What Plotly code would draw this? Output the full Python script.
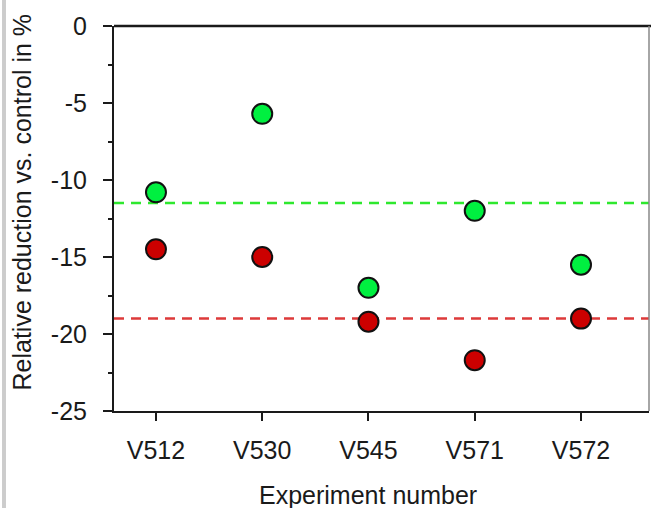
import plotly.graph_objects as go

experiments = ["V512", "V530", "V545", "V571", "V572"]
green_values = [-10.8, -5.7, -17.0, -12.0, -15.5]
red_values = [-14.5, -15.0, -19.2, -21.7, -19.0]
green_mean = -11.5
red_mean = -19.0
y_ticks = [0, -5, -10, -15, -20, -25]

xpos = list(range(1, len(experiments) + 1))
FONT = "Liberation Sans, Arial, sans-serif"
TXT = "#1a1a1a"
FS = 25

fig = go.Figure()

# dashed reference lines
fig.add_hline(y=green_mean, line=dict(color="#2ee82e", width=2.5, dash="10px,7px"), layer="below")
fig.add_hline(y=red_mean, line=dict(color="#dd3a3a", width=2.5, dash="10px,7px"), layer="below")

fig.add_trace(go.Scatter(
    x=xpos, y=green_values, mode="markers",
    marker=dict(size=20, color="#00f040", line=dict(color="#111111", width=2)),
    showlegend=False, cliponaxis=False))
fig.add_trace(go.Scatter(
    x=xpos, y=red_values, mode="markers",
    marker=dict(size=20, color="#cc0000", line=dict(color="#111111", width=2)),
    showlegend=False, cliponaxis=False))

fig.update_xaxes(
    range=[0.605, 5.64], tickmode="array", tickvals=xpos, ticktext=experiments,
    showgrid=False, zeroline=False, showline=True, linecolor="#1a1a1a", linewidth=2,
    ticks="outside", ticklen=8, tickwidth=2, tickcolor="#1a1a1a",
    tickfont=dict(family=FONT, size=FS, color=TXT), ticklabelstandoff=8)
fig.update_yaxes(
    range=[-25, 0], tickmode="array", tickvals=y_ticks, ticktext=[str(v) for v in y_ticks],
    showgrid=False, zeroline=False, showline=True, linecolor="#1a1a1a", linewidth=2,
    ticks="outside", ticklen=9, tickwidth=2, tickcolor="#1a1a1a",
    tickfont=dict(family=FONT, size=FS, color=TXT), ticklabelstandoff=11,
    minor=dict(tickvals=[-2.5, -7.5, -12.5, -17.5, -22.5], ticks="outside", ticklen=4,
               tickwidth=2, tickcolor="#1a1a1a"))

# frame top and right (right edge cropped, appears gray)
fig.add_shape(type="line", xref="paper", yref="paper", x0=0, x1=1.01, y0=1, y1=1,
              line=dict(color="#1a1a1a", width=2.5))
fig.add_shape(type="line", xref="paper", yref="paper", x0=1, x1=1, y0=0, y1=1,
              line=dict(color="#888888", width=1.5))
# left gray border of image
fig.add_shape(type="rect", xref="paper", yref="paper", x0=-0.2093, x1=-0.2019,
              y0=-0.26, y1=1.08, line=dict(width=0), fillcolor="#cccccc")

fig.add_annotation(text="Relative reduction vs. control in %", xref="paper", yref="paper",
                   x=-0.172, y=0.544, xanchor="center", yanchor="middle", textangle=-90,
                   showarrow=False, font=dict(family=FONT, size=FS, color=TXT))
fig.add_annotation(text="Experiment number", xref="x", yref="paper",
                   x=3, y=-0.218, xanchor="center", yanchor="middle",
                   showarrow=False, font=dict(family=FONT, size=FS, color=TXT))

fig.update_layout(
    width=651, height=508,
    margin=dict(l=114, r=2, t=26, b=97, autoexpand=False),
    paper_bgcolor="white", plot_bgcolor="white", showlegend=False)

fig.write_html("out.html", config={"displayModeBar": False},
               post_script="document.body.style.margin='0';document.body.style.overflow='hidden';")
